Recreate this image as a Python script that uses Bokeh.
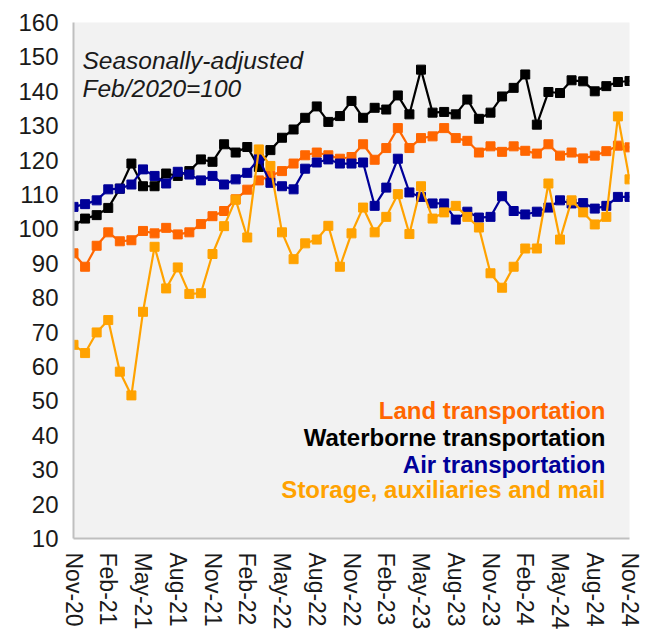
import math
import pandas as pd
from bokeh.plotting import figure
from bokeh.models import Range1d, FixedTicker, Label
from bokeh.embed import file_html
from bokeh.resources import INLINE

months = list(pd.date_range("2020-11-01", periods=49, freq="MS").strftime("%b-%y"))

land = [92.9, 89.0, 95.1, 99.0, 96.4, 96.7, 99.4, 98.7, 100.3, 98.4,
        99.0, 101.4, 103.7, 105.2, 108.6, 111.4, 114.1, 115.4, 116.8, 119.0,
        121.4, 122.2, 121.4, 120.4, 120.9, 124.6, 120.1, 123.5, 129.3, 123.5,
        126.4, 126.9, 129.3, 126.4, 125.6, 122.2, 124.0, 122.4, 124.0, 122.7,
        121.9, 124.6, 121.3, 122.2, 120.5, 121.3, 122.6, 124.2, 123.7]

waterborne = [100.9, 103.0, 104.0, 106.1, 111.7, 119.0, 112.4, 112.4, 116.1, 115.4,
              116.8, 120.2, 119.5, 124.6, 122.2, 123.8, 118.0, 122.9, 126.5, 128.9,
              132.3, 135.6, 131.1, 132.8, 137.2, 132.3, 135.2, 134.7, 138.8, 133.3,
              146.3, 133.8, 134.0, 133.3, 137.6, 132.0, 133.8, 138.5, 141.0, 144.9,
              130.3, 139.8, 139.5, 143.2, 142.9, 140.0, 141.5, 142.7, 143.0]

air = [106.4, 107.2, 108.3, 111.5, 111.7, 112.9, 117.3, 115.4, 113.2, 116.6,
       115.8, 114.1, 115.4, 112.9, 114.4, 116.3, 120.4, 113.4, 112.4, 111.5,
       117.5, 119.3, 120.2, 119.0, 119.0, 119.3, 106.7, 112.0, 120.4, 110.6,
       109.3, 107.4, 107.4, 102.7, 105.0, 103.3, 103.5, 109.5, 105.2, 104.2,
       105.0, 106.2, 108.3, 107.4, 107.5, 105.9, 106.7, 109.3, 109.3]

storage = [66.3, 63.9, 69.9, 73.5, 58.5, 51.6, 75.9, 94.8, 82.7, 88.8,
           81.1, 81.3, 92.7, 100.8, 108.5, 97.5, 123.1, 118.3, 99.0, 91.2,
           95.8, 96.9, 100.9, 89.0, 98.7, 106.2, 99.0, 103.5, 110.1, 98.5,
           112.4, 103.0, 104.8, 106.7, 103.5, 100.4, 87.1, 82.9, 89.0, 94.3,
           94.3, 113.2, 96.9, 108.3, 104.8, 101.3, 103.5, 132.7, 114.4]

series_names = ["Land transportation", "Waterborne transportation",
                "Air transportation", "Storage, auxiliaries and mail"]
series_colors = ["#FF6600", "#000000", "#000099", "#FFA200"]
series_values = [land, waterborne, air, storage]

y_ticks = list(range(10, 161, 10))
x_tick_step = 3

x = list(range(len(months)))

p = figure(width=642, height=632, output_backend="svg", toolbar_location=None,
           x_range=Range1d(0, len(months) - 1), y_range=Range1d(10, 160),
           min_border_left=73, min_border_right=13, min_border_top=22,
           min_border_bottom=93)
p.background_fill_color = "#F2F2F2"
p.border_fill_color = "white"
p.outline_line_color = None
p.grid.grid_line_color = None

for name, col, vals in zip(series_names, series_colors, series_values):
    p.line(x, vals, line_color=col, line_width=2.2)
    p.scatter(x, vals, marker="square", size=9, fill_color=col, line_color=col)

tick_idx = x[::x_tick_step]
p.xaxis.ticker = FixedTicker(ticks=tick_idx)
p.xaxis.major_label_overrides = {i: months[i] for i in tick_idx}
p.xaxis.major_label_orientation = -math.pi / 2
p.yaxis.ticker = FixedTicker(ticks=y_ticks)

for ax in (p.xaxis[0], p.yaxis[0]):
    ax.axis_line_color = "#BFBFBF"
    ax.axis_line_width = 2
    ax.major_tick_line_color = None
    ax.minor_tick_line_color = None
    ax.major_tick_out = 0
    ax.major_tick_in = 0
    ax.major_label_text_font = "Liberation Sans"
    ax.major_label_text_color = "#1a1a1a"
p.xaxis.major_label_text_font_size = "23px"
p.yaxis.major_label_text_font_size = "24px"
p.yaxis.major_label_standoff = 15
p.xaxis.major_label_standoff = 14

# annotation
for txt, yy in (("Seasonally-adjusted", 478.5), ("Feb/2020=100", 450)):
    p.add_layout(Label(x=9, y=yy, x_units="screen", y_units="screen", text=txt,
                       text_font="Liberation Sans", text_font_style="italic",
                       text_font_size="24.5px", text_color="#1a1a1a",
                       text_align="left", text_baseline="alphabetic"))

# legend as coloured text
leg_y = [128, 101, 74.5, 49]
for name, col, yy in zip(series_names, series_colors, leg_y):
    p.add_layout(Label(x=532, y=yy, x_units="screen", y_units="screen", text=name,
                       text_font="Liberation Sans", text_font_style="bold",
                       text_font_size="24px", text_color=col,
                       text_align="right", text_baseline="alphabetic"))

open("out.html", "w").write(file_html(p, INLINE))
